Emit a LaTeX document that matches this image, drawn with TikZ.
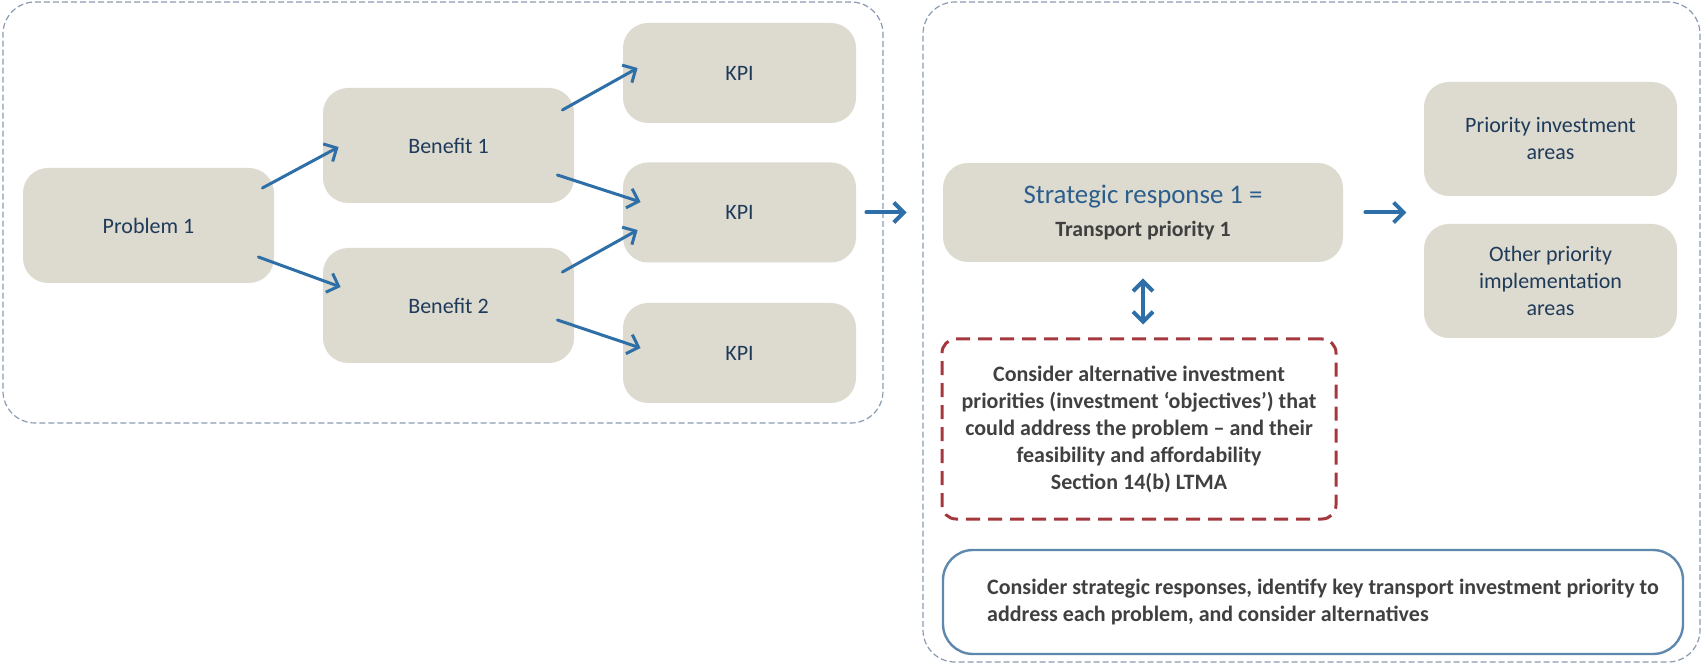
\documentclass[tikz,border=0pt]{standalone}
\usepackage{fontspec}
\setmainfont{Carlito}
\usetikzlibrary{arrows.meta,calc}
\definecolor{boxfill}{HTML}{DDDACF}
\definecolor{labelblue}{HTML}{1F3B5A}
\definecolor{stratblue}{HTML}{2B5E8C}
\definecolor{arrowblue}{HTML}{2F6FA8}
\definecolor{frameblue}{HTML}{8A9BB0}
\definecolor{dashred}{HTML}{A5383D}
\definecolor{notegray}{HTML}{404040}
\definecolor{noteborder}{HTML}{5F88AE}
\begin{document}
\begin{tikzpicture}[x=0.5pt,y=-0.5pt,
  gbox/.style={fill=boxfill, rounded corners=12.5pt, inner sep=0pt, text=labelblue, align=center, font=\fontsize{11}{13.5}\selectfont},
  panel/.style={draw=frameblue, line width=0.6pt, dash pattern=on 3pt off 1.5pt, rounded corners=16pt, inner sep=0pt},
  flow/.style={draw=arrowblue, line width=1.5pt, -{Straight Barb[length=5pt,width=10pt]}, line cap=round},
  bigflow/.style={flow, line width=2pt},
]
\useasboundingbox (0,0) rectangle (1704,663);
% panels
\node[panel, minimum width=440pt, minimum height=210.5pt] (leftpanel) at (443,212.5) {};
\node[panel, minimum width=388.5pt, minimum height=330pt] (rightpanel) at (1311.5,332) {};
% left boxes
\node[gbox, minimum width=125.5pt, minimum height=57.5pt] (p) at (148.5,225.5) {Problem 1};
\node[gbox, minimum width=125.5pt, minimum height=57.5pt] (b1) at (448.5,145.5) {Benefit 1};
\node[gbox, minimum width=125.5pt, minimum height=57.5pt] (b2) at (448.5,305.5) {Benefit 2};
\node[gbox, minimum width=116.5pt, minimum height=50pt] (k1) at (739.5,73) {KPI};
\node[gbox, minimum width=116.5pt, minimum height=50pt] (k2) at (739.5,212.5) {KPI};
\node[gbox, minimum width=116.5pt, minimum height=50pt] (k3) at (739.5,353) {KPI};
% right boxes
\node[gbox, minimum width=200pt, minimum height=49.5pt, font=\fontsize{13.4}{16.5}\selectfont] (s) at (1143,212.5)
  {{\color{stratblue}Strategic response 1 =}\\{\color{notegray}\bfseries\fontsize{10.9}{16.5}\selectfont Transport priority 1}};
\node[gbox, minimum width=126.5pt, minimum height=57pt] (pi) at (1550.5,139) {Priority investment\\areas};
\node[gbox, minimum width=126.5pt, minimum height=57pt] (op) at (1550.5,281) {Other priority\\implementation\\areas};
\node[draw=dashred, line width=1.5pt, dash pattern=on 7pt off 4pt, rounded corners=7pt, minimum width=197pt, minimum height=90pt, inner sep=0pt,
  text=notegray, font=\bfseries\fontsize{11}{13.5}\selectfont, align=center] (r) at (1139,429)
  {Consider alternative investment\\priorities (investment ‘objectives’) that\\could address the problem – and their\\feasibility and affordability\\Section 14(b) LTMA};
\node[draw=noteborder, line width=1.2pt, rounded corners=15pt, minimum width=370pt, minimum height=52pt, inner sep=0pt,
  text=notegray, font=\bfseries\fontsize{11}{13.5}\selectfont, align=left] (n) at (1313,602)
  {\hspace*{10pt}Consider strategic responses, identify key transport investment priority to\\\hspace*{10pt}address each problem, and consider alternatives};
% arrows left panel
\draw[flow] ($(p.east)+(-12,-37.5)$) -- ($(b1.west)+(16,1.5)$);
\draw[flow] ($(p.east)+(-16,31.5)$) -- ($(b2.west)+(18,-18.5)$);
\draw[flow] ($(b1.east)+(-12,-35.5)$) -- ($(k1.west)+(15,-5)$);
\draw[flow] ($(b1.east)+(-17,29.5)$) -- ($(k2.west)+(18,-10.5)$);
\draw[flow] ($(b2.east)+(-12,-33.5)$) -- ($(k2.west)+(15,17.5)$);
\draw[flow] ($(b2.east)+(-17,14.5)$) -- ($(k3.west)+(18,-5)$);
% main arrows
\draw[bigflow] ($(k2.east)+(10,0)$) -- ($(s.west)+(-36,0)$);
\draw[bigflow] ($(s.east)+(22,0)$) -- ($(s.east)+(63,0)$);
\draw[bigflow, {Straight Barb[length=5pt,width=10pt]}-{Straight Barb[length=5pt,width=10pt]}] ($(s.south)+(0,16)$) -- ($(s.south |- r.north)+(0,-13)$);
\end{tikzpicture}
\end{document}
